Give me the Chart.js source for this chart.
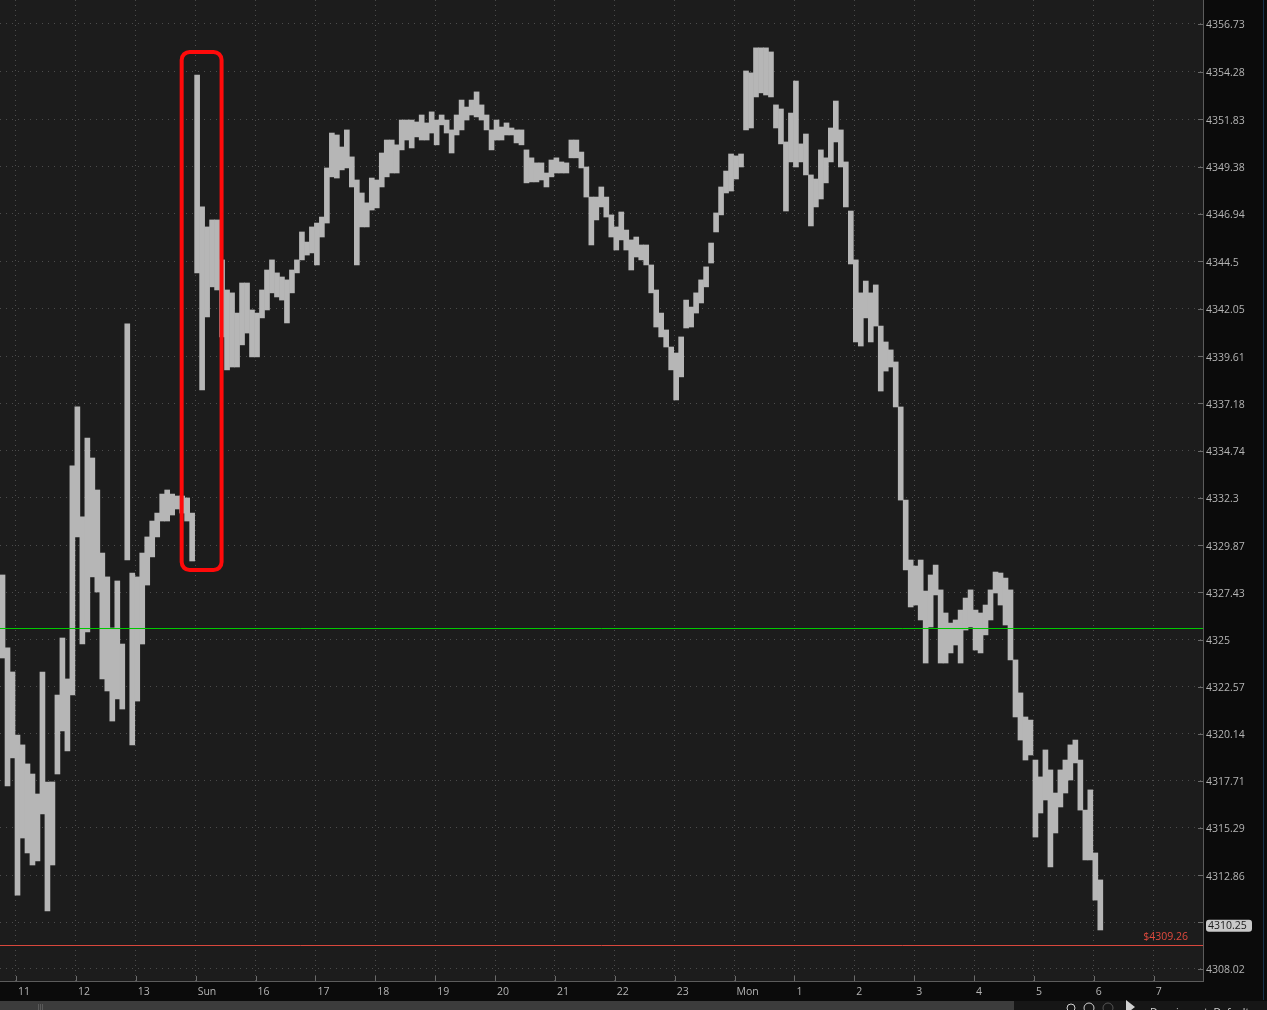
<!DOCTYPE html>
<html lang="en">
<head>
<meta charset="UTF-8">
<title>ES intraday</title>
<script src="https://cdn.jsdelivr.net/npm/chart.js"></script>
<style>
  html, body { margin: 0; padding: 0; background: #0b0b0b; overflow: hidden; }
  canvas { display: block; }
</style>
</head>
<body>
<canvas id="myChart" width="1267" height="1010"></canvas>
<script>
// 5-minute bars; time in minutes from the "11" hour mark
const barStart = -13.5;
const barStep = 5;

const highs = [
  4328.33, 4324.57, 4323.33, 4320.08, 4319.57, 4318.59, 4318.07, 4317.04, 4323.33, 4317.66,
  4317.66, 4322.14, 4325.08, 4322.97, 4333.95, 4336.99, 4331.32, 4335.39, 4334.36, 4332.71,
  4329.46, 4328.23, 4325.60, 4328.02, 4324.77, 4341.27, 4328.43, 4328.23, 4329.46, 4330.29,
  4331.11, 4331.52, 4332.50, 4332.71, 4332.50, 4332.40, 4332.40, 4332.30, 4331.52, 4354.10,
  4347.30, 4346.27, 4346.63, 4346.63, 4344.57, 4343.02, 4342.87, 4341.83, 4343.38, 4343.38,
  4341.99, 4341.83, 4343.02, 4344.05, 4344.57, 4343.90, 4343.69, 4343.54, 4344.05, 4344.57,
  4346.01, 4345.49, 4346.27, 4346.47, 4346.78, 4349.31, 4351.11, 4351.01, 4350.39, 4351.27,
  4349.88, 4348.69, 4348.02, 4347.51, 4348.79, 4348.69, 4350.08, 4350.75, 4350.75, 4350.50,
  4351.78, 4351.78, 4351.78, 4351.68, 4352.04, 4351.63, 4352.20, 4351.78, 4352.04, 4351.78,
  4351.27, 4352.04, 4352.81, 4352.45, 4352.81, 4353.23, 4352.56, 4352.04, 4351.27, 4351.78,
  4351.42, 4351.63, 4351.37, 4351.27, 4351.27, 4350.24, 4349.83, 4349.57, 4349.57, 4349.05,
  4349.72, 4349.83, 4349.62, 4349.57, 4350.75, 4350.75, 4350.13, 4349.36, 4347.81, 4347.81,
  4348.33, 4347.81, 4346.89, 4346.27, 4347.04, 4346.11, 4345.60, 4345.75, 4345.34, 4345.34,
  4344.31, 4343.02, 4341.83, 4340.96, 4340.08, 4339.77, 4340.60, 4342.50, 4342.14, 4342.87,
  4343.54, 4344.21, 4345.44, 4346.99, 4348.33, 4349.15, 4350.03, 4349.93, 4350.03, 4354.31,
  4354.21, 4355.50, 4355.50, 4355.50, 4355.29, 4352.56, 4352.35, 4350.65, 4352.14, 4353.79,
  4350.55, 4351.06, 4348.95, 4348.74, 4350.24, 4349.83, 4351.37, 4352.76, 4351.27, 4349.62,
  4347.09, 4344.57, 4342.87, 4343.48, 4342.87, 4343.28, 4341.16, 4340.34, 4339.93, 4339.31,
  4336.99, 4332.19, 4329.10, 4328.79, 4329.10, 4327.50, 4328.33, 4328.84, 4327.56, 4326.37,
  4325.85, 4326.01, 4326.52, 4327.14, 4327.56, 4326.52, 4326.37, 4326.78, 4327.56, 4328.48,
  4328.43, 4328.17, 4327.56, 4323.95, 4322.25, 4321.01, 4320.85, 4318.79, 4317.92, 4319.31,
  4318.28, 4317.09, 4318.28, 4318.79, 4319.57, 4319.82, 4318.79, 4316.21, 4317.25, 4314.00,
  4312.61
];

const lows = [
  4324.05, 4317.45, 4318.90, 4311.83, 4314.77, 4314.00, 4313.38, 4313.59, 4316.01, 4311.01,
  4313.38, 4318.07, 4320.29, 4319.26, 4322.14, 4330.29, 4324.77, 4325.39, 4328.23, 4327.45,
  4322.97, 4322.35, 4320.80, 4321.94, 4321.42, 4329.10, 4319.57, 4321.83, 4324.77, 4327.81,
  4329.26, 4330.29, 4331.11, 4331.11, 4331.42, 4331.73, 4331.52, 4331.11, 4329.05, 4343.90,
  4337.87, 4341.63, 4343.18, 4343.02, 4340.60, 4338.90, 4339.05, 4339.05, 4340.19, 4340.80,
  4339.57, 4339.57, 4341.58, 4341.99, 4342.87, 4342.66, 4342.50, 4341.32, 4342.87, 4343.90,
  4344.57, 4344.82, 4344.93, 4344.31, 4345.75, 4346.47, 4348.85, 4348.79, 4349.21, 4349.31,
  4348.33, 4344.31, 4346.27, 4346.27, 4347.14, 4347.25, 4348.33, 4348.85, 4349.05, 4349.05,
  4350.24, 4350.75, 4350.34, 4350.91, 4350.75, 4350.75, 4351.11, 4350.50, 4351.53, 4351.11,
  4350.08, 4351.01, 4351.27, 4351.78, 4352.04, 4351.94, 4351.78, 4351.27, 4350.24, 4350.75,
  4350.75, 4351.01, 4351.01, 4350.60, 4350.50, 4348.54, 4348.59, 4348.59, 4348.69, 4348.33,
  4348.85, 4349.05, 4349.05, 4349.05, 4349.83, 4349.83, 4349.31, 4347.81, 4345.34, 4346.63,
  4347.30, 4346.78, 4345.75, 4345.08, 4345.60, 4345.08, 4344.05, 4344.72, 4344.57, 4344.31,
  4342.87, 4341.11, 4340.60, 4340.08, 4338.90, 4337.35, 4338.54, 4341.06, 4341.11, 4341.83,
  4342.35, 4343.18, 4344.41, 4346.01, 4346.89, 4348.02, 4348.12, 4348.74, 4349.36, 4351.27,
  4351.37, 4352.97, 4353.18, 4353.07, 4352.97, 4351.37, 4350.55, 4347.09, 4349.62, 4349.36,
  4349.62, 4348.95, 4346.32, 4347.30, 4347.71, 4348.54, 4349.62, 4350.65, 4349.36, 4347.30,
  4344.36, 4340.34, 4340.13, 4341.58, 4340.34, 4341.16, 4337.81, 4338.84, 4339.05, 4336.99,
  4332.19, 4328.59, 4326.68, 4326.78, 4326.01, 4323.79, 4325.65, 4327.30, 4323.79, 4323.79,
  4324.31, 4324.72, 4323.79, 4325.49, 4325.65, 4324.46, 4324.31, 4325.24, 4326.01, 4327.40,
  4326.78, 4325.75, 4323.95, 4321.01, 4319.82, 4318.79, 4319.05, 4314.82, 4316.06, 4316.73,
  4313.28, 4315.03, 4316.37, 4317.09, 4317.76, 4318.64, 4316.21, 4313.64, 4313.64, 4311.57,
  4310.03
];

const hourLabels = ['11', '12', '13', 'Sun', '16', '17', '18', '19', '20', '21', '22', '23',
  'Mon', '1', '2', '3', '4', '5', '6', '7'];

const yTicks = [4356.73, 4354.28, 4351.83, 4349.38, 4346.94, 4344.5, 4342.05, 4339.61,
  4337.18, 4334.74, 4332.3, 4329.87, 4327.43, 4325, 4322.57, 4320.14, 4317.71, 4315.29,
  4312.86, 4310.43, 4308.02];

const lastPrice = 4310.25;
const bidPrice = 4309.26;
const refPrice = 4325.60;
const boxTime = [166, 206];
const boxPrice = [4328.58, 4355.29];

const labelFont = { family: "'Open Sans', sans-serif", size: 10.5 };

const bars = highs.map((h, i) => ({ x: barStart + i * barStep, y: [lows[i], h] }));

const chartStyle = {
    id: 'chartStyle',
    beforeDraw(chart) {
        const { ctx, chartArea: a } = chart;
        ctx.save();
        ctx.fillStyle = '#0b0b0b';
        ctx.fillRect(0, 0, chart.width, chart.height);
        ctx.fillStyle = '#1c1c1c';
        ctx.fillRect(a.left, a.top, a.right - a.left, a.bottom - a.top);
        ctx.restore();
    },
    afterDatasetsDraw(chart) {
        const { ctx, chartArea: a, scales: { x, y } } = chart;
        ctx.save();
        // reference line
        let py = Math.round(y.getPixelForValue(refPrice)) + 0.5;
        ctx.strokeStyle = '#00c800';
        ctx.lineWidth = 1;
        ctx.beginPath(); ctx.moveTo(a.left, py); ctx.lineTo(a.right, py); ctx.stroke();
        // bid line
        py = Math.round(y.getPixelForValue(bidPrice)) + 0.5;
        ctx.strokeStyle = '#d8473c';
        ctx.beginPath(); ctx.moveTo(a.left, py); ctx.lineTo(a.right, py); ctx.stroke();
        ctx.fillStyle = '#e04a3e';
        ctx.font = "10.5px 'Open Sans', sans-serif";
        ctx.textAlign = 'right';
        ctx.textBaseline = 'middle';
        ctx.fillText('$' + bidPrice.toFixed(2), a.right - 15, py - 8);
        // highlight box
        const x0 = x.getPixelForValue(boxTime[0]), x1 = x.getPixelForValue(boxTime[1]);
        const y0 = y.getPixelForValue(boxPrice[1]), y1 = y.getPixelForValue(boxPrice[0]);
        ctx.strokeStyle = '#ff0a0a';
        ctx.lineWidth = 4;
        ctx.beginPath();
        ctx.roundRect(x0, y0, x1 - x0, y1 - y0, 8);
        ctx.stroke();
        ctx.restore();
    },
    afterDraw(chart) {
        const { ctx, chartArea: a, scales: { x, y } } = chart;
        ctx.save();
        // tick marks pointing into the plot
        ctx.strokeStyle = '#6a6a6a';
        ctx.lineWidth = 1;
        y.ticks.forEach(t => {
            const p = Math.round(y.getPixelForValue(t.value)) + 0.5;
            ctx.beginPath(); ctx.moveTo(a.right - 5, p); ctx.lineTo(a.right, p); ctx.stroke();
        });
        x.ticks.forEach(t => {
            const p = Math.round(x.getPixelForValue(t.value)) + 0.5;
            ctx.beginPath(); ctx.moveTo(p, a.bottom - 5); ctx.lineTo(p, a.bottom); ctx.stroke();
        });
        // last price badge
        const by = y.getPixelForValue(lastPrice);
        ctx.fillStyle = '#c9c9c9';
        ctx.beginPath();
        ctx.roundRect(a.right + 3, by - 6, 46, 12, 3);
        ctx.fill();
        ctx.fillStyle = '#1a1a1a';
        ctx.font = "10.5px 'Open Sans', sans-serif";
        ctx.textAlign = 'left';
        ctx.textBaseline = 'middle';
        ctx.fillText(lastPrice.toFixed(2), a.right + 5, by + 0.5);
        // bottom scroll strip
        ctx.fillStyle = '#3c3c3c';
        ctx.fillRect(0, 1001, 1014, 9);
        ctx.fillStyle = '#5a5a5a';
        ctx.fillRect(38, 1004, 1, 6); ctx.fillRect(40, 1004, 1, 6); ctx.fillRect(42, 1004, 1, 6);
        ctx.fillStyle = '#161616';
        ctx.fillRect(1014, 1001, 253, 9);
        ctx.fillStyle = '#d0d0d0';
        ctx.strokeStyle = '#d0d0d0';
        ctx.beginPath(); ctx.arc(1071, 1008, 4, 0, Math.PI * 2); ctx.stroke();
        ctx.beginPath(); ctx.arc(1089, 1008, 5, 0, Math.PI * 2); ctx.stroke();
        ctx.strokeStyle = '#555';
        ctx.beginPath(); ctx.arc(1108, 1008, 5, 0, Math.PI * 2); ctx.stroke();
        ctx.beginPath(); ctx.moveTo(1126, 1000); ctx.lineTo(1135, 1007); ctx.lineTo(1126, 1014); ctx.closePath(); ctx.fill();
        ctx.fillText('Drawing set: Default', 1150, 1013);
        // right edge
        ctx.fillStyle = '#17324a';
        ctx.fillRect(1263, 0, 1, 1000);
        ctx.restore();
    }
};

const config = {
    type: 'bar',
    data: {
        datasets: [{
            data: bars,
            backgroundColor: '#b6b6b6',
            borderWidth: 0,
            barPercentage: 1,
            categoryPercentage: 1,
            grouped: false
        }]
    },
    options: {
        responsive: false,
        animation: false,
        events: [],
        layout: { padding: 0 },
        plugins: { legend: { display: false }, tooltip: { enabled: false } },
        scales: {
            x: {
                type: 'linear',
                offset: false,
                min: -16.03,
                max: 1189.4,
                afterBuildTicks: s => { s.ticks = hourLabels.map((_, i) => ({ value: i * 60 })); },
                afterFit: s => { s.height = 29; s.paddingLeft = 0; s.paddingRight = 0; },
                ticks: {
                    callback: (v, i) => hourLabels[i],
                    color: '#b4b4b4',
                    font: labelFont,
                    align: 'start',
                    labelOffset: 2,
                    padding: 5,
                    maxRotation: 0,
                    autoSkip: false
                },
                grid: { color: '#4c4c4c', drawTicks: false, offset: false },
                border: { display: true, color: '#5c5c5c', dash: [1, 4] }
            },
            y: {
                position: 'right',
                min: 4307.40,
                max: 4357.967,
                afterBuildTicks: s => { s.ticks = yTicks.map(v => ({ value: v })); },
                afterFit: s => { s.width = 64; s.paddingTop = 0; s.paddingBottom = 0; },
                ticks: {
                    callback: v => Math.abs(v - lastPrice) < 0.5 ? '' : String(v),
                    color: '#b4b4b4',
                    font: labelFont,
                    padding: 3,
                    labelOffset: 1.5,
                    autoSkip: false
                },
                grid: { color: '#4c4c4c', drawTicks: false },
                border: { display: true, color: '#5c5c5c', dash: [1, 5] }
            }
        }
    },
    plugins: [chartStyle]
};

new Chart(document.getElementById('myChart'), config);
</script>
</body>
</html>
